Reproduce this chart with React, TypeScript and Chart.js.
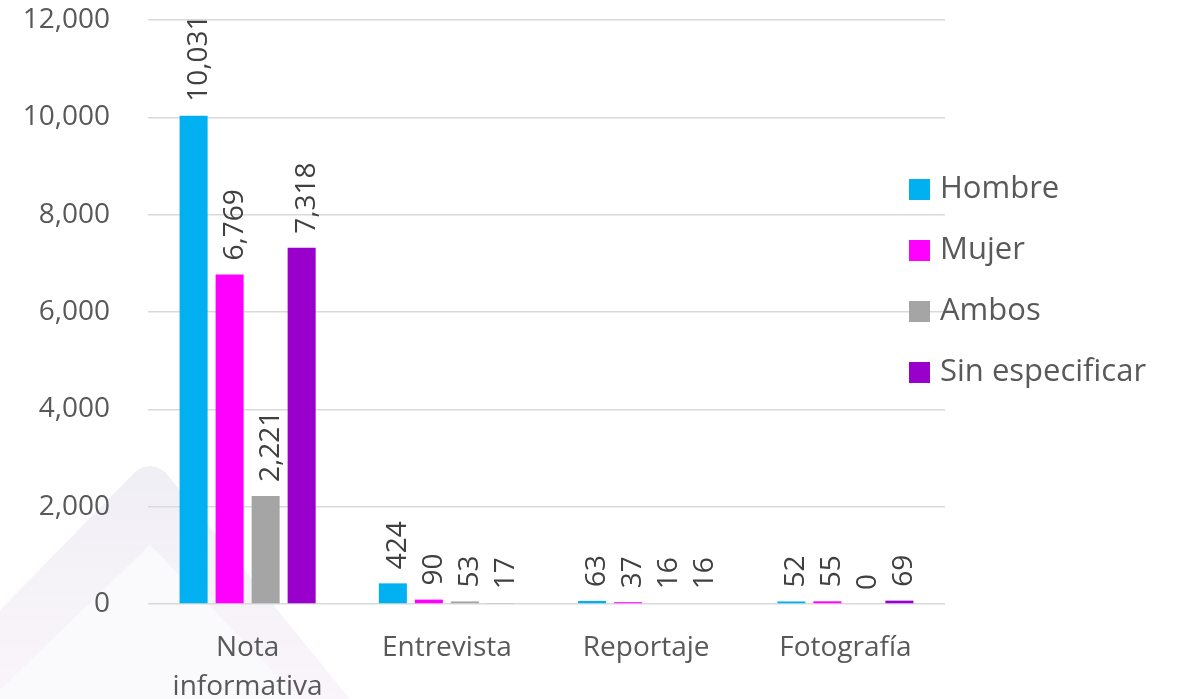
import React, { useEffect, useRef } from "react";
import { Chart, registerables } from "chart.js";

Chart.register(...registerables);

const categories: (string | string[])[] = [["Nota", "informativa"], "Entrevista", "Reportaje", "Fotografía"];
const seriesNames = ["Hombre", "Mujer", "Ambos", "Sin especificar"];
const hombre = [10031, 424, 63, 52];
const mujer = [6769, 90, 37, 55];
const ambos = [2221, 53, 16, 0];
const sinEspecificar = [7318, 17, 16, 69];
const seriesColors = ["#00B0F0", "#FF00FF", "#A5A5A5", "#9900CC"];
const yTicks = [0, 2000, 4000, 6000, 8000, 10000, 12000];

const FONT = "'Open Sans', 'Noto Sans', sans-serif";
const fmt = (v: number) => v.toLocaleString("en-US");

const watermarkPlugin = {
  id: "watermark",
  beforeDraw(chart: any) {
    const ctx = chart.ctx;
    ctx.save();
    const g = ctx.createLinearGradient(0, 460, 0, 699);
    g.addColorStop(0, "rgba(200,195,220,0.28)");
    g.addColorStop(1, "rgba(225,205,230,0.2)");
    ctx.fillStyle = g;
    ctx.beginPath();
    ctx.moveTo(0, 610);
    ctx.lineTo(135, 472);
    ctx.quadraticCurveTo(150, 460, 165, 472);
    ctx.lineTo(350, 699);
    ctx.lineTo(300, 699);
    ctx.lineTo(150, 545);
    ctx.lineTo(0, 690);
    ctx.closePath();
    ctx.fill();
    ctx.fillStyle = "rgba(240,235,245,0.3)";
    ctx.beginPath();
    ctx.moveTo(0, 690);
    ctx.lineTo(150, 545);
    ctx.lineTo(300, 699);
    ctx.lineTo(0, 699);
    ctx.closePath();
    ctx.fill();
    ctx.restore();
  },
};

const labelsPlugin = {
  id: "rotLabels",
  afterDatasetsDraw(chart: any) {
    const ctx = chart.ctx;
    ctx.save();
    ctx.font = `28px ${FONT}`;
    ctx.fillStyle = "#404040";
    ctx.textAlign = "left";
    ctx.textBaseline = "alphabetic";
    chart.data.datasets.forEach((ds: any, di: number) => {
      const meta = chart.getDatasetMeta(di);
      meta.data.forEach((bar: any, i: number) => {
        const v = ds.data[i];
        ctx.save();
        ctx.translate(bar.x + 13, bar.y - 14);
        ctx.rotate(-Math.PI / 2);
        ctx.fillText(fmt(v), 0, 0);
        ctx.restore();
      });
    });
    ctx.restore();
  },
};

const legendPlugin = {
  id: "customLegend",
  afterDraw(chart: any) {
    const ctx = chart.ctx;
    ctx.save();
    ctx.font = `31px ${FONT}`;
    ctx.textAlign = "left";
    ctx.textBaseline = "middle";
    chart.data.datasets.forEach((ds: any, i: number) => {
      const top = 179 + i * 61;
      ctx.fillStyle = ds.backgroundColor;
      ctx.fillRect(909, top, 21, 21);
      ctx.fillStyle = "#595959";
      ctx.fillText(ds.label, 940, top + 10);
    });
    ctx.restore();
  },
};

export default function App() {
  const ref = useRef<HTMLCanvasElement>(null);
  useEffect(() => {
    if (!ref.current) return;
    const seriesData = [hombre, mujer, ambos, sinEspecificar];
    const chart = new Chart(ref.current, {
      type: "bar",
      data: {
        labels: categories,
        datasets: seriesNames.map((name, i) => ({
          label: name,
          data: seriesData[i],
          backgroundColor: seriesColors[i],
          borderWidth: 0,
          barPercentage: 0.778,
          categoryPercentage: 0.723,
        })),
      },
      options: {
        animation: false,
        responsive: false,
        maintainAspectRatio: false,
        layout: { padding: { left: 0, right: 241, top: 20, bottom: 0 } },
        plugins: {
          legend: { display: false },
          tooltip: { enabled: false },
        },
        scales: {
          x: {
            grid: { display: false },
            border: { display: false },
            ticks: {
              color: "#595959",
              font: { family: FONT, size: 28, lineHeight: 1.4 },
              padding: 16,
              maxRotation: 0,
              autoSkip: false,
            },
            afterFit: (s: any) => {
              s.height = 95;
              s.paddingLeft = 0;
              s.paddingRight = 0;
            },
          },
          y: {
            min: 0,
            max: 12000,
            afterBuildTicks: (s: any) => {
              s.ticks = yTicks.map((v) => ({ value: v }));
            },
            grid: { color: "#D9D9D9", lineWidth: 1.5, drawTicks: false },
            border: { display: false },
            ticks: {
              color: "#595959",
              font: { family: FONT, size: 28 },
              padding: 38,
              callback: (v: any) => fmt(Number(v)),
            },
            afterFit: (s: any) => {
              s.width = 148;
              s.paddingTop = 0;
              s.paddingBottom = 0;
            },
          },
        },
      },
      plugins: [watermarkPlugin, labelsPlugin, legendPlugin],
    });
    return () => chart.destroy();
  }, []);
  return (
    <div style={{ position: "fixed", left: 0, top: 0, width: 1186, height: 699, background: "#fff" }}>
      <canvas ref={ref} width={1186} height={699} style={{ display: "block" }} />
    </div>
  );
}
